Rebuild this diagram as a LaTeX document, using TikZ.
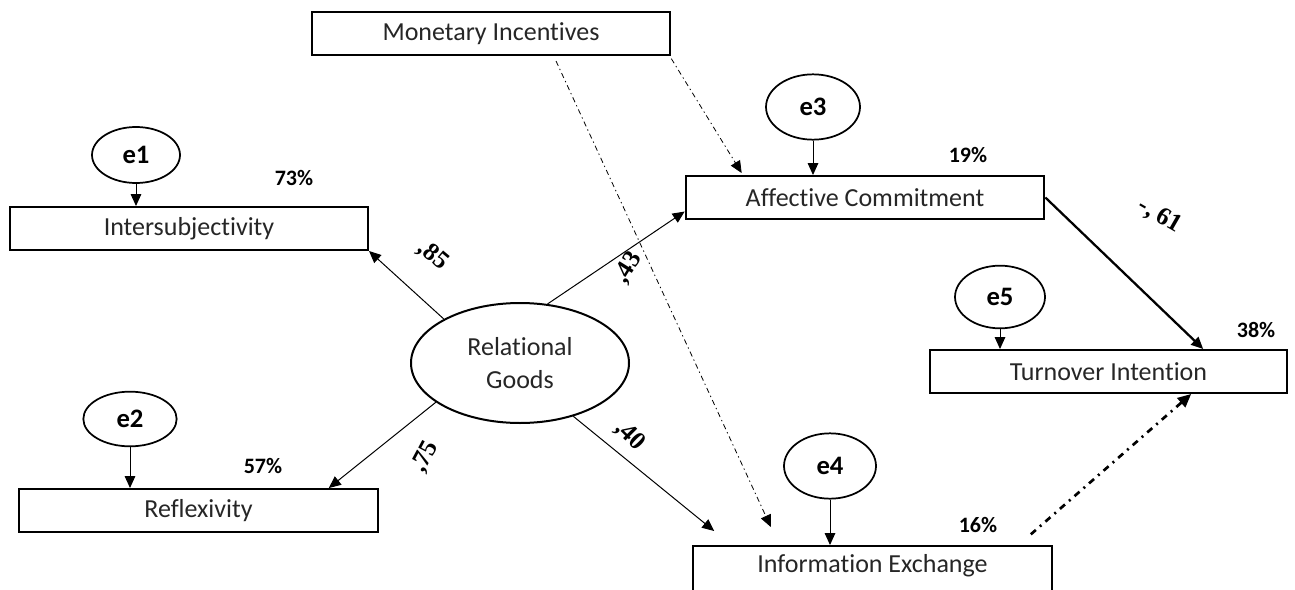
\documentclass[tikz,border=0pt]{standalone}
\usepackage{fontspec}
\setmainfont{Carlito}[Ligatures=NoCommon]
\newfontfamily\coeffont{Liberation Serif}
\usetikzlibrary{arrows.meta,shapes.geometric}
\begin{document}
\begin{tikzpicture}[x=0.75pt,y=-0.75pt,
  box/.style={draw, line width=1.5pt, rectangle, minimum width=269pt, minimum height=32.25pt, inner sep=0pt, text=black!85, font=\fontsize{19.5}{23}\selectfont},
  err/.style={draw, line width=1.3pt, ellipse, inner sep=0pt, font=\bfseries\fontsize{20}{24}\selectfont},
  pct/.style={font=\bfseries\fontsize{16.5}{19}\selectfont, inner sep=0pt},
  coefl/.style={font=\coeffont\bfseries\fontsize{19}{22}\selectfont, inner sep=0pt},
  link/.style={line width=0.75pt, -{Triangle[length=9pt,width=8pt]}},
  mlink/.style={line width=0.6pt, dash pattern=on 4pt off 2.5pt on 1pt off 2.5pt, -{Triangle[length=9pt,width=8pt]}},
  dlink/.style={line width=2pt, dash pattern=on 5pt off 4pt on 1.5pt off 4pt, -{Triangle[length=10pt,width=9pt]}}
]
\useasboundingbox (0,0) rectangle (1295,589);
\clip (0,0) rectangle (1295,589);
\fill[white] (0,0) rectangle (1295,589);

% boxes
\node[box] (mon) at (491,33.5) {Monetary Incentives};
\node[box] (aff) at (865,197.5) {Affective Commitment};
\node[box, minimum width=268.5pt] (int) at (189,228.5) {Intersubjectivity};
\node[box] (ref) at (198.5,510.5) {Reflexivity};
\node[box, minimum width=267.75pt] (tur) at (1108.5,371.5) {Turnover Intention};
\node[box, minimum height=40.5pt, text depth=14pt] (inf) at (872.5,573) {Information Exchange};

% latent
\node[draw, ellipse, line width=1.5pt, minimum width=163.5pt, minimum height=90pt, inner sep=0pt, align=center, text=black!85, font=\fontsize{19.5}{24.75}\selectfont] (rg) at (520,363) {Relational\\Goods};

% errors
\node[err, minimum width=66pt, minimum height=42pt] (e1) at (136,155) {e1};
\node[err, minimum width=70pt, minimum height=41pt] (e2) at (130,419) {e2};
\node[err, minimum width=70.5pt, minimum height=49pt] (e3) at (813,107) {e3};
\node[err, minimum width=69pt, minimum height=49pt] (e4) at (830,466) {e4};
\node[err, minimum width=67.5pt, minimum height=47pt] (e5) at (1000,297) {e5};

\draw[link] (e1.south) -- (e1.south |- int.north);
\draw[link] (e2.south) -- (e2.south |- ref.north);
\draw[link] (e3.south) -- (e3.south |- aff.north);
\draw[link] (e4.south) -- (e4.south |- inf.north);
\draw[link] (e5.south) -- (e5.south |- tur.north);

% structural paths
\draw[link] (rg.150) -- (int.south east);
\draw[link] (rg.205) -- ([xshift=-37.5pt]ref.north east);
\draw[link] (rg.65) -- ([yshift=-10.5pt]aff.west);
\draw[link] (rg.-45) -- ([xshift=16.5pt,yshift=10.5pt]inf.north west);
\draw[link, line width=1.7pt] (aff.east) -- ([xshift=71pt]tur.north);
\draw[dlink] ([xshift=-16.5pt,yshift=8pt]inf.north east) -- ([xshift=62pt]tur.south);
\draw[mlink] ([yshift=-2pt]mon.south east) -- ([xshift=42.75pt,yshift=1.5pt]aff.north west);
\draw[mlink] ([xshift=48.75pt,yshift=-3.75pt]mon.south) -- ([xshift=59pt,yshift=13.5pt]inf.north west);

% R2
\node[pct] (p1) at (294,178) {73\%};
\node[pct] (p2) at (263,466) {57\%};
\node[pct] (p3) at (968,155) {19\%};
\node[pct] (p4) at (978,525) {16\%};
\node[pct] (p5) at (1256,330) {38\%};

% coefficients
\node[coefl, rotate=-40] (c1) at (433,256) {,85};
\node[coefl, rotate=58] (c2) at (628,268) {,43};
\node[coefl, rotate=62] (c3) at (425,457) {,75};
\node[coefl, rotate=-45] (c4) at (630,436) {,40};
\node[coefl, rotate=-30] (c5) at (1160,216) {-, 61};
\end{tikzpicture}
\end{document}
